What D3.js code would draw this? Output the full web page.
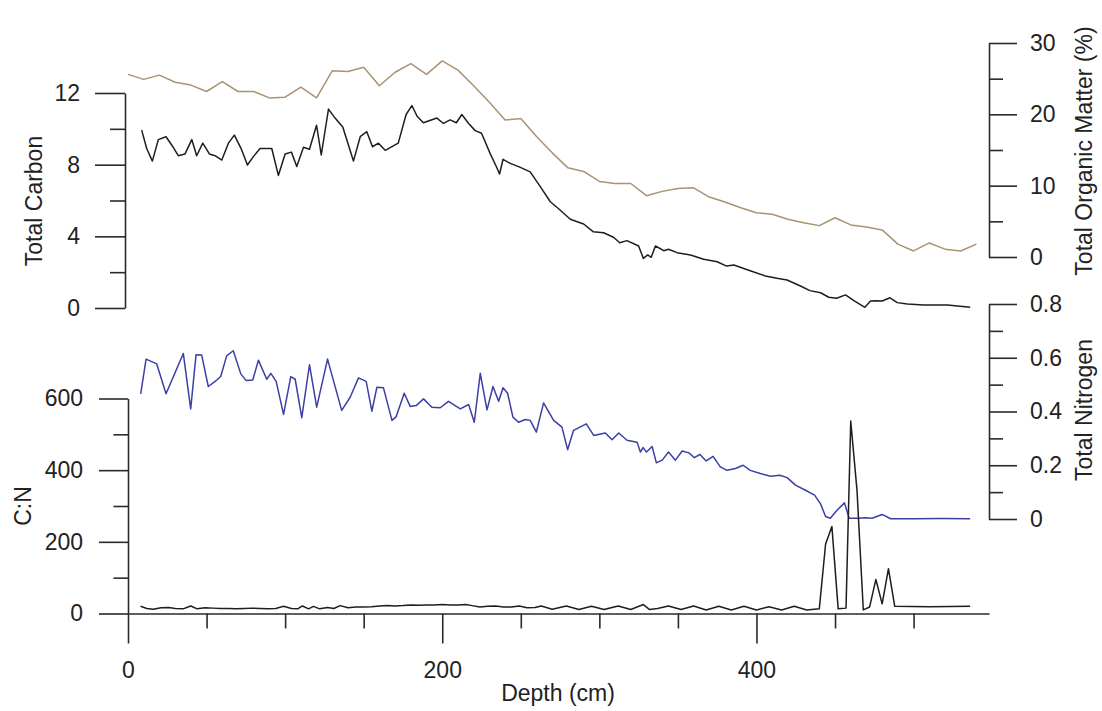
<!DOCTYPE html>
<html>
<head>
<meta charset="utf-8">
<script src="https://cdn.jsdelivr.net/npm/d3@7"></script>
<style>
	body { margin: 0; background: #fff; }
	svg { display: block; font-family: "Liberation Sans", Arial, sans-serif; }
	.axis path, .axis line { stroke: #2a2a2a; stroke-width: 1.6; }
	.axis text { font-size: 23px; fill: #222; font-family: "Liberation Sans", Arial, sans-serif; }
	.label { font-size: 23px; fill: #222; text-anchor: middle; }
</style>
</head>
<body>
<div class="chart"></div>
<script>
//values, depth in cm

//total organic matter (%), one sample every 10 cm
const tomDepth = [0, 10, 20, 30, 40, 50, 60, 70, 80, 90, 100, 110, 120, 130, 140, 150, 160, 170, 180, 190,
	200, 210, 220, 230, 240, 250, 260, 270, 280, 290, 300, 310, 320, 330, 340, 350, 360, 370, 380, 390,
	400, 410, 420, 430, 440, 450, 460, 470, 480, 490, 500, 510, 520, 530, 540];
const tomValues = [25.6, 24.9, 25.5, 24.5, 24.1, 23.2, 24.6, 23.2, 23.2, 22.3, 22.4, 23.8, 22.3, 26.1, 26.0, 26.6, 24.0, 25.9, 27.1, 25.6,
	27.5, 26.2, 24.0, 21.7, 19.2, 19.4, 16.9, 14.6, 12.5, 12.0, 10.6, 10.3, 10.3, 8.6, 9.2, 9.6, 9.7, 8.4, 7.7, 6.9,
	6.2, 6.0, 5.3, 4.8, 4.4, 5.5, 4.5, 4.2, 3.8, 1.8, 0.85, 1.97, 1.1, 0.85, 1.8];

//total carbon
const tcDepth = [8.7, 11.9, 15.5, 19.3, 24.2, 27.8, 32, 36.3, 40.6, 43.7, 47.6, 51.8, 55.4, 59.7, 63.9, 67.7, 72, 76, 79.8, 84,
	91.5, 95.7, 100, 104, 107.4, 111.7, 115.5, 120, 123, 127.6, 131.8, 136.7, 143.5, 147.8, 152, 155.6, 159.4, 163.7, 172, 177,
	180.7, 184, 188, 196.6, 200.8, 205, 209, 212.5, 216.8, 221, 225, 230.6, 234.4, 236.5, 238.7, 243.3, 249.7, 256, 262.4, 268.8,
	275, 281.5, 290, 296, 302.7, 309, 313, 317.6, 325, 328, 330.8, 333, 335.7, 341, 344, 349.5, 358, 366.4, 375, 381,
	385.6, 396, 405.7, 413, 419.5, 428, 434, 440.8, 446, 451, 456.7, 462, 469, 472.6, 476, 480, 485, 489.6, 496, 506.6,
	521.5, 536];
const tcValues = [9.93, 8.9, 8.2, 9.4, 9.56, 9.1, 8.5, 8.6, 9.4, 8.5, 9.2, 8.6, 8.5, 8.26, 9.2, 9.65, 8.9, 7.98, 8.45, 8.9,
	8.9, 7.4, 8.6, 8.7, 7.9, 8.97, 8.86, 10.2, 8.54, 11.1, 10.6, 10.1, 8.2, 9.56, 9.84, 9.0, 9.2, 8.8, 9.2, 10.8,
	11.3, 10.7, 10.34, 10.6, 10.3, 10.5, 10.34, 10.8, 10.3, 9.9, 9.75, 8.6, 7.9, 7.48, 8.3, 8.07, 7.85, 7.6, 6.77, 5.93,
	5.47, 4.95, 4.69, 4.26, 4.2, 3.95, 3.64, 3.76, 3.46, 2.77, 2.96, 2.83, 3.46, 3.2, 3.28, 3.09, 2.96, 2.72, 2.58, 2.34,
	2.4, 2.08, 1.79, 1.66, 1.56, 1.23, 0.97, 0.85, 0.6, 0.54, 0.73, 0.41, 0.04, 0.39, 0.41, 0.39, 0.57, 0.3, 0.22, 0.17,
	0.17, 0.04];

//total nitrogen
const tnDepth = [8.1, 11.5, 18.3, 24.2, 35.2, 39.9, 43.3, 46.9, 51.1, 56.5, 59, 62.8, 67, 71.8, 75.2, 79.4, 83, 88.3, 90.9, 94.3,
	99, 103.6, 106.4, 110.6, 115.5, 120.1, 127, 136, 141.4, 146.7, 151.6, 155.2, 158.4, 162.6, 168, 170.7, 175.8, 179.6, 183.4, 188.1,
	193.4, 198.7, 204, 211.5, 216.8, 220.4, 224.2, 228.5, 232.3, 235.9, 238.7, 241.6, 245, 248.6, 252.9, 256, 259.9, 264.5, 270.9, 276.2,
	279.8, 283.6, 291.7, 296.4, 303.8, 308.1, 312.3, 317.6, 324, 326.1, 327.8, 330, 333.6, 336.3, 340, 344, 348.4, 352.7, 357, 360.5,
	364, 368, 372.4, 377, 381.3, 386.6, 391.5, 396, 402.5, 409, 415, 419.5, 424.8, 431.2, 437, 440.8, 444, 447, 451, 456,
	459, 464, 469.4, 473.6, 480, 485.4, 500, 518, 536];
const tnValues = [0.466, 0.595, 0.577, 0.466, 0.616, 0.41, 0.611, 0.61, 0.493, 0.517, 0.53, 0.607, 0.626, 0.54, 0.515, 0.517, 0.591, 0.52, 0.542, 0.512,
	0.389, 0.53, 0.52, 0.377, 0.574, 0.416, 0.595, 0.404, 0.453, 0.525, 0.512, 0.401, 0.49, 0.488, 0.367, 0.381, 0.468, 0.419, 0.422, 0.447,
	0.416, 0.414, 0.438, 0.41, 0.426, 0.36, 0.542, 0.406, 0.493, 0.438, 0.488, 0.468, 0.379, 0.36, 0.37, 0.367, 0.323, 0.432, 0.367, 0.342,
	0.258, 0.33, 0.354, 0.311, 0.32, 0.295, 0.32, 0.293, 0.286, 0.249, 0.266, 0.249, 0.27, 0.209, 0.219, 0.249, 0.219, 0.253, 0.246, 0.228,
	0.24, 0.216, 0.233, 0.194, 0.181, 0.188, 0.2, 0.181, 0.169, 0.159, 0.163, 0.154, 0.126, 0.107, 0.089, 0.056, 0.009, 0.003, 0.031, 0.06,
	0.003, 0.003, 0.005, 0.003, 0.017, 0.001, 0.001, 0.002, 0.001];

//carbon : nitrogen ratio
const cnDepth = [8, 12, 16, 21, 26, 30, 35, 40, 44, 49, 54, 59, 64, 69, 74, 79, 84, 89, 94, 99,
	104, 108, 111, 115, 118, 122, 127, 131, 135, 140, 145, 150, 155, 160, 165, 170, 175, 180, 185, 190,
	195, 200, 205, 210, 215, 219, 224, 229, 234, 239, 244, 249, 254, 259, 263, 270, 279, 287, 295, 303,
	312, 320, 328, 332, 337, 344, 352, 360, 368, 376, 384, 392, 400, 408, 416, 424, 432, 440, 444, 448,
	452, 457, 460, 464, 468, 472, 476, 480, 484, 488, 510, 536];
const cnValues = [20, 14, 12, 16, 17, 14, 13, 21, 13, 16, 15, 14, 14, 13, 14, 15, 14, 13, 14, 20,
	14, 13, 21, 13, 20, 13, 17, 14, 22, 16, 18, 18, 19, 21, 22, 21, 22, 24, 23, 24,
	24, 25, 24, 24, 25, 22, 18, 20, 21, 18, 18, 21, 16, 17, 21, 12, 21, 11, 20, 11,
	21, 11, 25, 11, 14, 21, 11, 21, 10, 20, 10, 20, 10, 19, 10, 20, 10, 13, 194, 243,
	13, 15, 537, 343, 10, 18, 95, 27, 125, 20, 19, 20];

//tick values
const depthTicks = [0, 200, 400];
const depthMinor = [50, 100, 150, 250, 300, 350, 450, 500];
const tcTicks = [0, 4, 8, 12];
const tcMinor = [2, 6, 10];
const tomTicks = [0, 10, 20, 30];
const tomMinor = [5, 15, 25];
const tnTicks = [0, 0.2, 0.4, 0.6, 0.8];
const tnMinor = [0.1, 0.3, 0.5, 0.7];
const cnTicks = [0, 200, 400, 600];
const cnMinor = [100, 300, 500];

const width = 1102;
const height = 711;

const svg = d3
	.select('.chart')
	.append('svg')
	.attr('width', width)
	.attr('height', height);

//shared depth axis
const x = d3.scaleLinear().domain([0, 548]).range([128, 989]);

//each panel has its own y scale
const yTC = d3.scaleLinear().domain([0, 12]).range([308, 93]);
const yTOM = d3.scaleLinear().domain([0, 30]).range([257, 43]);
const yTN = d3.scaleLinear().domain([0, 0.8]).range([519, 304]);
const yCN = d3.scaleLinear().domain([0, 600]).range([613.5, 398.5]);

//helper that draws major + minor ticks for one axis
function drawAxis(axisFn, scale, major, minor, transform, size, pad) {
	const g = svg.append('g').attr('class', 'axis').attr('transform', transform);
	g
		.append('g')
		.call(axisFn(scale).tickValues(minor).tickSize(size / 2).tickSizeOuter(0).tickFormat(''))
		.select('.domain')
		.remove();
	g.append('g').call(axisFn(scale).tickValues(major).tickSize(size).tickSizeOuter(0).tickPadding(pad).tickFormat(d3.format('')));
	g.selectAll('.domain').attr('fill', 'none');
	return g;
}

drawAxis(d3.axisLeft, yTC, tcTicks, tcMinor, 'translate(125,0)', 30, 15);
drawAxis(d3.axisRight, yTOM, tomTicks, tomMinor, 'translate(989,0)', 28, 13);
drawAxis(d3.axisRight, yTN, tnTicks, tnMinor, 'translate(989,0)', 28, 13);
drawAxis(d3.axisLeft, yCN, cnTicks, cnMinor, 'translate(128,0)', 29, 16);
drawAxis(d3.axisBottom, x, depthTicks, depthMinor, 'translate(0,613.5)', 30, 18);

//lines
function drawLine(depths, values, yScale, color) {
	const line = d3
		.line()
		.x((d, i) => x(depths[i]))
		.y((d) => yScale(d));
	svg
		.append('path')
		.datum(values)
		.attr('fill', 'none')
		.attr('stroke', color)
		.attr('stroke-width', 1.5)
		.attr('stroke-linejoin', 'round')
		.attr('d', line);
}

drawLine(tomDepth, tomValues, yTOM, '#a99372');
drawLine(tcDepth, tcValues, yTC, '#1e1e1e');
drawLine(tnDepth, tnValues, yTN, '#3b3fa6');
drawLine(cnDepth, cnValues, yCN, '#1e1e1e');

//axis titles
svg.append('text').attr('class', 'label').attr('transform', 'translate(42,201) rotate(-90)').text('Total Carbon');
svg.append('text').attr('class', 'label').attr('transform', 'translate(31,506) rotate(-90)').text('C:N');
svg.append('text').attr('class', 'label').attr('transform', 'translate(1092,151) rotate(-90)').text('Total Organic Matter (%)');
svg.append('text').attr('class', 'label').attr('transform', 'translate(1092,410) rotate(-90)').text('Total Nitrogen');
svg.append('text').attr('class', 'label').attr('x', 558).attr('y', 701).text('Depth (cm)');
</script>
</body>
</html>
